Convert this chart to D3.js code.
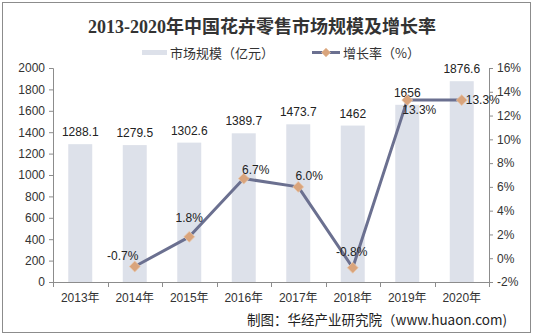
<!DOCTYPE html>
<html>
<head>
<meta charset="utf-8">
<script src="https://cdn.jsdelivr.net/npm/d3@7"></script>
<style>
  html, body { margin: 0; padding: 0; background: #fff; }
  svg { display: block; }
</style>
</head>
<body>
<svg id="chart" width="533" height="335"></svg>
<script>
// ---- data ----
const years = ["2013年", "2014年", "2015年", "2016年", "2017年", "2018年", "2019年", "2020年"];
const marketSize = [1288.1, 1279.5, 1302.6, 1389.7, 1473.7, 1462, 1656, 1876.6];
const growthRate = [null, -0.7, 1.8, 6.7, 6.0, -0.8, 13.3, 13.3];
const leftTicks = [0, 200, 400, 600, 800, 1000, 1200, 1400, 1600, 1800, 2000];
const rightTicks = [-2, 0, 2, 4, 6, 8, 10, 12, 14, 16];
const titleText = "2013-2020年中国花卉零售市场规模及增长率";
const legendBar = "市场规模（亿元）";
const legendLine = "增长率（%）";
const sourceText = "制图：华经产业研究院（www.huaon.com)";

// label nudges (layout only)
const rateLabelDx = [0, -12, 0, 12, 11, -1, 12, 21];
const rateLabelDy = [0, -11, -19, -9, -11, -16, 10, 0];

// ---- layout ----
const svg = d3.select("#chart");
const W = 533, H = 335;
const plot = { left: 53, right: 489, top: 68, bottom: 282 };
const font = "'Liberation Sans', Arial, 'Noto Sans CJK SC', sans-serif";
const cjk = "'Noto Sans CJK SC', 'Liberation Sans', sans-serif";

svg.append("rect").attr("x", 2.5).attr("y", 2.5).attr("width", W - 5).attr("height", H - 5)
  .attr("fill", "#fff").attr("stroke", "#8c8c8c").attr("stroke-width", 1);

const x = d3.scaleBand().domain(years).range([plot.left, plot.right]).padding(0);
const yL = d3.scaleLinear().domain([0, 2000]).range([plot.bottom, plot.top]);
const yR = d3.scaleLinear().domain([-2, 16]).range([plot.bottom, plot.top]);
const barW = x.step() * 0.44;

// title
svg.append("text").attr("x", 262).attr("y", 33).attr("text-anchor", "middle")
  .attr("font-family", "'Liberation Serif', 'Noto Sans CJK SC', serif")
  .attr("font-weight", "bold").attr("font-size", 18).attr("fill", "#333")
  .text(titleText);

// legend
const lg = svg.append("g");
lg.append("rect").attr("x", 142).attr("y", 50).attr("width", 25).attr("height", 5).attr("fill", "#dde1ea");
lg.append("text").attr("x", 170).attr("y", 57.5).attr("font-family", cjk).attr("font-size", 13)
  .attr("fill", "#333").text(legendBar);
lg.append("line").attr("x1", 312).attr("x2", 340).attr("y1", 52.5).attr("y2", 52.5)
  .attr("stroke", "#6b7090").attr("stroke-width", 3);
lg.append("path").attr("d", d3.symbol(d3.symbolDiamond2, 50)()).attr("transform", "translate(326,52.5)")
  .attr("fill", "#d9a47c").attr("stroke", "#eac6a8").attr("stroke-width", 0.8);
lg.append("text").attr("x", 343).attr("y", 57.5).attr("font-family", cjk).attr("font-size", 13)
  .attr("fill", "#333").text(legendLine);

// bars
svg.append("g").selectAll("rect").data(marketSize).join("rect")
  .attr("x", (d, i) => x(years[i]) + (x.step() - barW) / 2)
  .attr("y", d => yL(d))
  .attr("width", barW)
  .attr("height", d => yL(0) - yL(d))
  .attr("fill", "#dde1ea");

// axes
function styleAxis(g) {
  g.selectAll(".domain").attr("stroke", "#8c8c8c");
  g.selectAll(".tick line").attr("stroke", "#8c8c8c");
  g.selectAll(".tick text").attr("fill", "#333").attr("font-family", font).attr("font-size", 12);
}
const axL = svg.append("g").attr("transform", `translate(${plot.left},0)`)
  .call(d3.axisLeft(yL).tickValues(leftTicks).tickSize(4).tickSizeOuter(4).tickPadding(4)
    .tickFormat(d3.format("d")));
styleAxis(axL);
const axR = svg.append("g").attr("transform", `translate(${plot.right},0)`)
  .call(d3.axisRight(yR).tickValues(rightTicks).tickSize(4).tickSizeOuter(4).tickPadding(4)
    .tickFormat(d => d + "%"));
styleAxis(axR);

const axB = svg.append("g").attr("transform", `translate(0,${plot.bottom})`);
axB.append("line").attr("x1", plot.left).attr("x2", plot.right).attr("y1", 0.5).attr("y2", 0.5)
  .attr("stroke", "#8c8c8c");
const bounds = years.map(y => x(y)).concat([plot.right]);
axB.selectAll("line.tk").data(bounds).join("line").attr("class", "tk")
  .attr("x1", d => Math.round(d) + 0.5).attr("x2", d => Math.round(d) + 0.5)
  .attr("y1", 0).attr("y2", 5).attr("stroke", "#8c8c8c");
axB.selectAll("text").data(years).join("text")
  .attr("x", d => x(d) + x.step() / 2).attr("y", 20).attr("text-anchor", "middle")
  .attr("font-family", font).attr("font-size", 12).attr("fill", "#333").text(d => d);

// bar labels
svg.append("g").selectAll("text").data(marketSize).join("text")
  .attr("x", (d, i) => x(years[i]) + x.step() / 2)
  .attr("y", d => yL(d) - 8)
  .attr("text-anchor", "middle").attr("font-family", font).attr("font-size", 12).attr("fill", "#222")
  .text(d => d);

// line
const pts = growthRate.map((v, i) => ({ v, i })).filter(p => p.v !== null);
const line = d3.line().x(p => x(years[p.i]) + x.step() / 2).y(p => yR(p.v));
svg.append("path").datum(pts).attr("d", line).attr("fill", "none")
  .attr("stroke", "#6b7090").attr("stroke-width", 3).attr("stroke-linejoin", "round");

svg.append("g").selectAll("path").data(pts).join("path")
  .attr("d", d3.symbol(d3.symbolDiamond2, 75)())
  .attr("transform", p => `translate(${x(years[p.i]) + x.step() / 2},${yR(p.v)})`)
  .attr("fill", "#d9a47c").attr("stroke", "#eac6a8").attr("stroke-width", 0.8);

svg.append("g").selectAll("text").data(pts).join("text")
  .attr("x", p => x(years[p.i]) + x.step() / 2 + rateLabelDx[p.i])
  .attr("y", p => yR(p.v) + rateLabelDy[p.i] + 4)
  .attr("text-anchor", "middle").attr("font-family", font).attr("font-size", 12).attr("fill", "#222")
  .text(p => p.v.toFixed(1) + "%");

// source
svg.append("text").attr("x", 507).attr("y", 325).attr("text-anchor", "end")
  .attr("font-family", cjk).attr("font-size", 13.5).attr("fill", "#222").text(sourceText);
</script>
</body>
</html>
